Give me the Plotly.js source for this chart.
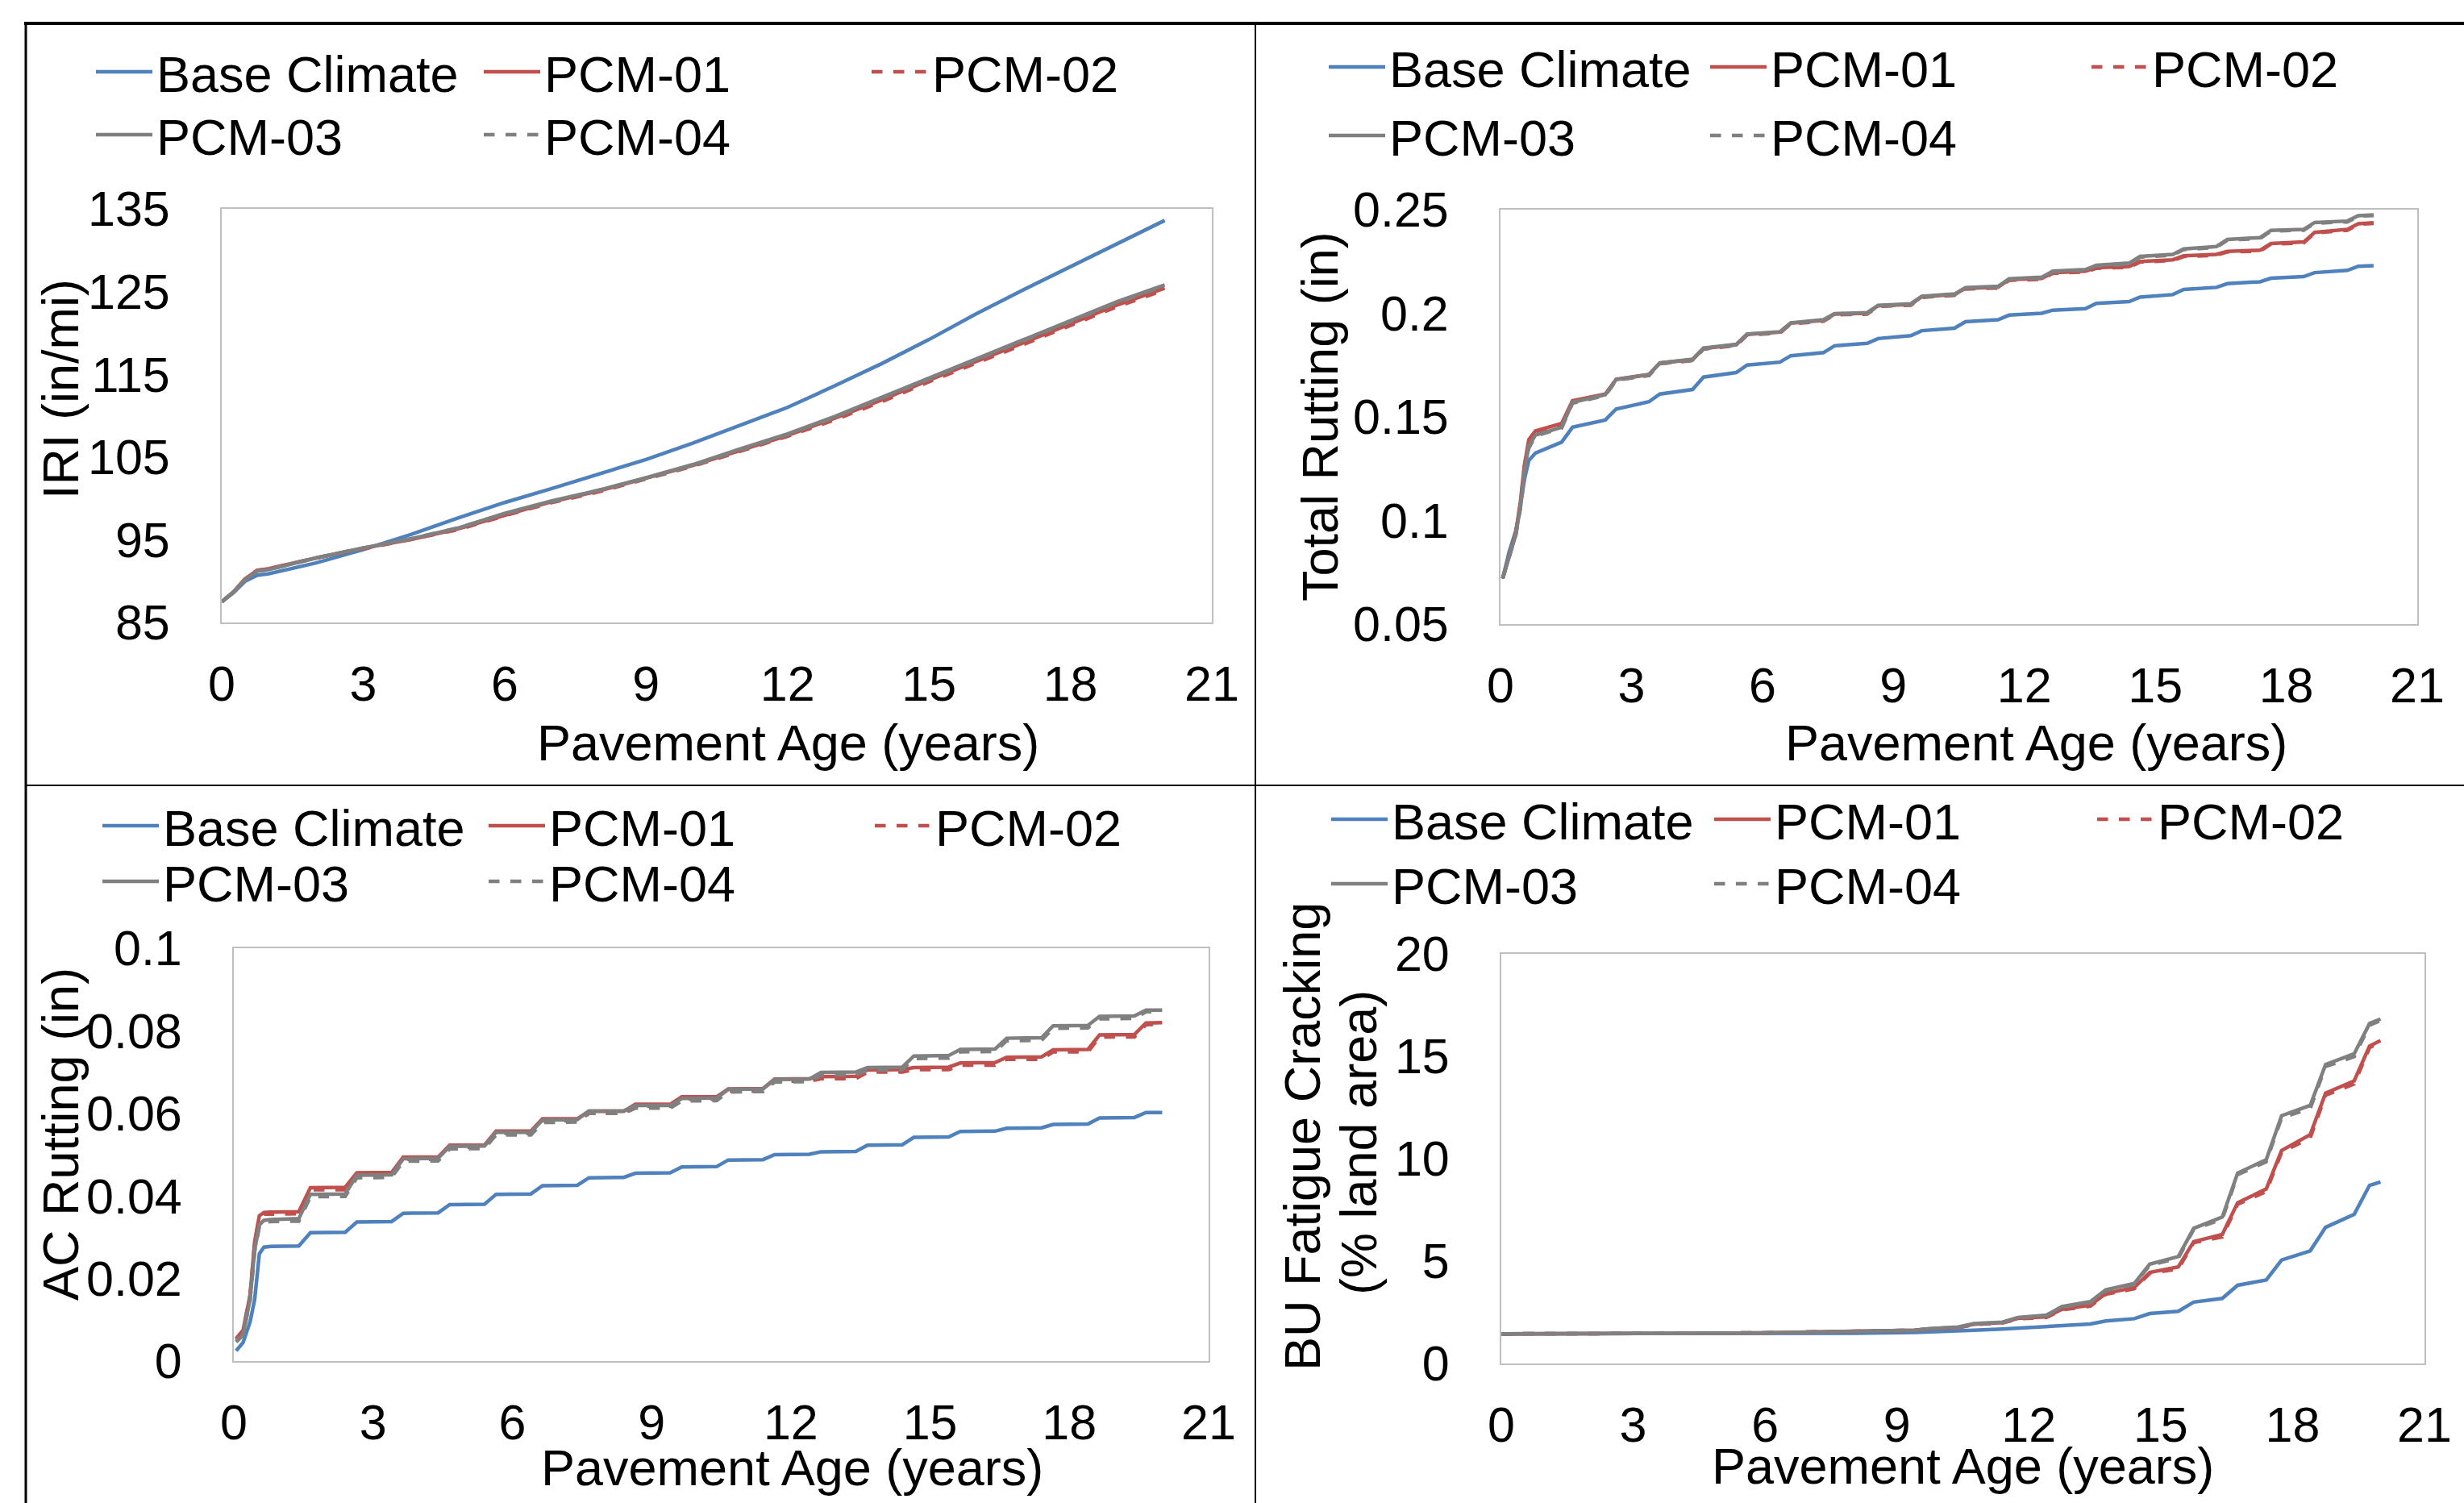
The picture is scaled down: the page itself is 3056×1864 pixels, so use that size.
<!DOCTYPE html>
<html>
<head>
<meta charset="utf-8">
<script src="https://cdn.plot.ly/plotly-3.0.1.min.js"></script>
<style>
  html, body { margin: 0; padding: 0; background: #ffffff; }
  #chart { width: 3056px; height: 1864px; }
</style>
</head>
<body>
<div id="chart"></div>
<script>
// ---------------- DATA ----------------
const seriesNames = ["Base Climate", "PCM-01", "PCM-02", "PCM-03", "PCM-04"];

// IRI (in/mi)
const iriYears = [0, 0.25, 0.5, 0.75, 1, 1.5, 2, 3, 4, 5, 6, 7, 8, 9, 10, 11, 12, 13, 14, 15, 16, 17, 18, 19, 20];
const iriBase  = [87.5, 88.6, 90.0, 90.7, 90.9, 91.5, 92.2, 93.8, 95.6, 97.6, 99.5, 101.2, 102.9, 104.7, 106.7, 108.9, 111.0, 113.6, 116.3, 119.2, 122.3, 125.2, 128.0, 130.8, 133.6];
const iriPcm01 = [87.5, 88.7, 90.3, 91.3, 91.5, 92.2, 92.8, 94.0, 95.0, 96.3, 98.0, 99.6, 100.9, 102.4, 104.0, 105.8, 107.6, 109.7, 111.9, 114.3, 116.5, 118.8, 121.1, 123.4, 125.4];
const iriPcm02 = [87.5, 88.7, 90.3, 91.3, 91.5, 92.2, 92.8, 93.9, 95.0, 96.2, 97.9, 99.5, 100.8, 102.3, 103.9, 105.7, 107.5, 109.5, 111.7, 114.1, 116.3, 118.6, 120.9, 123.2, 125.2];
const iriPcm03 = [87.5, 88.7, 90.2, 91.2, 91.4, 92.1, 92.8, 94.0, 95.1, 96.4, 98.2, 99.7, 101.0, 102.5, 104.1, 106.0, 107.8, 109.9, 112.2, 114.6, 116.9, 119.1, 121.5, 123.8, 125.8];
const iriPcm04 = [87.5, 88.7, 90.2, 91.2, 91.4, 92.1, 92.8, 94.0, 95.1, 96.4, 98.1, 99.6, 101.0, 102.4, 104.0, 105.9, 107.7, 109.8, 112.1, 114.5, 116.8, 119.0, 121.4, 123.7, 125.7];

// Rutting sample ages (years)
const rutYears = [0.05, 0.2, 0.35, 0.45, 0.55, 0.65, 0.8, 1.4, 1.65, 2.4, 2.65, 3.4, 3.65, 4.4, 4.65, 5.4, 5.65, 6.4, 6.65, 7.4, 7.65, 8.4, 8.65, 9.4, 9.65, 10.4, 10.65, 11.4, 11.65, 12.4, 12.65, 13.4, 13.65, 14.4, 14.65, 15.4, 15.65, 16.4, 16.65, 17.4, 17.65, 18.4, 18.65, 19.4, 19.65, 20.0];

// Total rutting (in)
const trBase  = [0.072, 0.085, 0.095, 0.106, 0.120, 0.129, 0.1325, 0.1378, 0.1450, 0.1485, 0.1538, 0.1573, 0.1610, 0.1632, 0.1692, 0.1714, 0.1750, 0.1764, 0.1795, 0.1810, 0.1843, 0.1855, 0.1878, 0.1892, 0.1916, 0.1928, 0.1959, 0.1969, 0.1991, 0.2000, 0.2015, 0.2022, 0.2048, 0.2056, 0.2078, 0.2090, 0.2115, 0.2125, 0.2143, 0.2152, 0.2169, 0.2177, 0.2196, 0.2207, 0.2227, 0.2230];
const trPcm01 = [0.072, 0.083, 0.094, 0.108, 0.127, 0.139, 0.1432, 0.1468, 0.1578, 0.1610, 0.1682, 0.1704, 0.1760, 0.1776, 0.1830, 0.1848, 0.1898, 0.1909, 0.1952, 0.1966, 0.1996, 0.2000, 0.2036, 0.2043, 0.2080, 0.2090, 0.2120, 0.2126, 0.2162, 0.2168, 0.2196, 0.2203, 0.2220, 0.2226, 0.2250, 0.2258, 0.2277, 0.2284, 0.2299, 0.2304, 0.2337, 0.2344, 0.2390, 0.2405, 0.2432, 0.2437];
const trPcm02 = [0.072, 0.083, 0.094, 0.107, 0.126, 0.138, 0.1428, 0.1464, 0.1574, 0.1606, 0.1679, 0.1700, 0.1757, 0.1772, 0.1827, 0.1844, 0.1895, 0.1905, 0.1949, 0.1962, 0.1993, 0.1996, 0.2033, 0.2039, 0.2077, 0.2086, 0.2117, 0.2122, 0.2159, 0.2164, 0.2193, 0.2199, 0.2217, 0.2222, 0.2247, 0.2254, 0.2274, 0.2280, 0.2296, 0.2300, 0.2334, 0.2340, 0.2387, 0.2401, 0.2429, 0.2434];
const trPcm03 = [0.072, 0.083, 0.093, 0.106, 0.124, 0.136, 0.1412, 0.1450, 0.1570, 0.1607, 0.1680, 0.1704, 0.1760, 0.1778, 0.1832, 0.1850, 0.1900, 0.1911, 0.1954, 0.1969, 0.1998, 0.2003, 0.2038, 0.2046, 0.2082, 0.2093, 0.2124, 0.2130, 0.2166, 0.2174, 0.2203, 0.2211, 0.2232, 0.2242, 0.2274, 0.2284, 0.2310, 0.2322, 0.2356, 0.2365, 0.2400, 0.2405, 0.2438, 0.2445, 0.2471, 0.2475];
const trPcm04 = [0.072, 0.083, 0.093, 0.105, 0.123, 0.135, 0.1408, 0.1446, 0.1566, 0.1603, 0.1677, 0.1700, 0.1757, 0.1774, 0.1829, 0.1846, 0.1897, 0.1907, 0.1951, 0.1965, 0.1995, 0.1999, 0.2035, 0.2042, 0.2079, 0.2089, 0.2121, 0.2126, 0.2163, 0.2170, 0.2200, 0.2207, 0.2229, 0.2238, 0.2271, 0.2280, 0.2307, 0.2318, 0.2353, 0.2361, 0.2397, 0.2401, 0.2435, 0.2441, 0.2468, 0.2472];

// AC rutting (in)
const acBase  = [0.0025, 0.0045, 0.0095, 0.0150, 0.0260, 0.0276, 0.0278, 0.0279, 0.0311, 0.0312, 0.0337, 0.0338, 0.0358, 0.0359, 0.0379, 0.0380, 0.0404, 0.0405, 0.0425, 0.0426, 0.0444, 0.0445, 0.0455, 0.0456, 0.0470, 0.0471, 0.0487, 0.0488, 0.0500, 0.0501, 0.0507, 0.0508, 0.0523, 0.0524, 0.0542, 0.0543, 0.0556, 0.0557, 0.0564, 0.0565, 0.0573, 0.0574, 0.0589, 0.0590, 0.0602, 0.0602];
const acPcm01 = [0.0055, 0.0075, 0.0160, 0.0290, 0.0352, 0.0360, 0.0361, 0.0362, 0.0420, 0.0421, 0.0456, 0.0457, 0.0494, 0.0494, 0.0523, 0.0523, 0.0557, 0.0557, 0.0587, 0.0587, 0.0605, 0.0605, 0.0622, 0.0622, 0.0640, 0.0640, 0.0659, 0.0660, 0.0683, 0.0684, 0.0689, 0.0690, 0.0705, 0.0706, 0.0711, 0.0712, 0.0722, 0.0723, 0.0736, 0.0737, 0.0754, 0.0755, 0.0790, 0.0791, 0.0819, 0.0820];
const acPcm02 = [0.0053, 0.0073, 0.0158, 0.0287, 0.0348, 0.0356, 0.0356, 0.0357, 0.0415, 0.0415, 0.0451, 0.0451, 0.0489, 0.0489, 0.0518, 0.0518, 0.0552, 0.0552, 0.0582, 0.0582, 0.0600, 0.0600, 0.0617, 0.0617, 0.0635, 0.0635, 0.0654, 0.0654, 0.0678, 0.0678, 0.0684, 0.0684, 0.0700, 0.0700, 0.0706, 0.0706, 0.0717, 0.0717, 0.0731, 0.0731, 0.0749, 0.0749, 0.0785, 0.0785, 0.0815, 0.0816];
const acPcm03 = [0.0048, 0.0065, 0.0150, 0.0270, 0.0330, 0.0341, 0.0343, 0.0345, 0.0404, 0.0405, 0.0450, 0.0451, 0.0490, 0.0491, 0.0520, 0.0521, 0.0554, 0.0554, 0.0584, 0.0585, 0.0606, 0.0606, 0.0619, 0.0619, 0.0636, 0.0637, 0.0658, 0.0659, 0.0682, 0.0683, 0.0699, 0.0700, 0.0711, 0.0712, 0.0739, 0.0740, 0.0755, 0.0756, 0.0782, 0.0783, 0.0812, 0.0813, 0.0835, 0.0836, 0.0850, 0.0850];
const acPcm04 = [0.0046, 0.0063, 0.0147, 0.0266, 0.0326, 0.0337, 0.0338, 0.0339, 0.0398, 0.0399, 0.0444, 0.0445, 0.0484, 0.0485, 0.0514, 0.0515, 0.0548, 0.0548, 0.0578, 0.0579, 0.0600, 0.0600, 0.0613, 0.0613, 0.0630, 0.0631, 0.0652, 0.0653, 0.0676, 0.0677, 0.0693, 0.0694, 0.0705, 0.0706, 0.0733, 0.0734, 0.0749, 0.0750, 0.0776, 0.0777, 0.0806, 0.0807, 0.0829, 0.0830, 0.0846, 0.0847];

// Bottom-up fatigue cracking (% lane area)
const buYears = [0, 2, 4, 6, 8, 9.4, 9.75, 10.4, 10.75, 11.4, 11.75, 12.4, 12.75, 13.4, 13.75, 14.4, 14.75, 15.4, 15.75, 16.4, 16.75, 17.4, 17.75, 18.4, 18.75, 19.4, 19.75, 20.0];
const buBase  = [1.45, 1.45, 1.45, 1.46, 1.48, 1.52, 1.54, 1.58, 1.62, 1.68, 1.72, 1.80, 1.86, 1.93, 2.08, 2.19, 2.44, 2.55, 3.00, 3.18, 3.82, 4.08, 5.05, 5.50, 6.65, 7.28, 8.70, 8.86];
const buPcm01 = [1.45, 1.45, 1.47, 1.50, 1.55, 1.62, 1.69, 1.76, 1.92, 2.00, 2.20, 2.28, 2.65, 2.85, 3.42, 3.71, 4.45, 4.72, 5.95, 6.30, 7.85, 8.52, 10.40, 11.17, 13.20, 13.80, 15.50, 15.77];
const buPcm02 = [1.45, 1.45, 1.47, 1.50, 1.55, 1.62, 1.68, 1.75, 1.90, 1.98, 2.18, 2.25, 2.62, 2.80, 3.38, 3.65, 4.40, 4.62, 5.90, 6.18, 7.78, 8.40, 10.32, 11.02, 13.10, 13.65, 15.42, 15.70];
const buPcm03 = [1.45, 1.45, 1.47, 1.50, 1.55, 1.62, 1.70, 1.78, 1.95, 2.02, 2.25, 2.36, 2.78, 3.02, 3.60, 3.91, 4.85, 5.22, 6.60, 7.15, 9.30, 9.95, 12.10, 12.60, 14.60, 15.12, 16.60, 16.82];
const buPcm04 = [1.45, 1.45, 1.47, 1.50, 1.55, 1.62, 1.69, 1.77, 1.93, 2.00, 2.23, 2.33, 2.75, 2.98, 3.56, 3.86, 4.80, 5.15, 6.55, 7.05, 9.22, 9.85, 12.00, 12.45, 14.50, 14.98, 16.52, 16.75];

const xTitle = "Pavement Age (years)";
const yTitles = ["IRI (in/mi)", "Total Rutting (in)", "AC Rutting (in)"];
const buTitleLines = ["BU Fatigue Cracking", "(% land area)"];

// ---------------- STYLE ----------------
const W = 3056, H = 1864;
const FONT = "Liberation Sans, Arial, Helvetica, sans-serif";
const styles = [
  {color: "#4f81bd", dash: "solid"},
  {color: "#c0504d", dash: "solid"},
  {color: "#c0504d", dash: "dash"},
  {color: "#808080", dash: "solid"},
  {color: "#808080", dash: "dash"}
];
const LW = 4.5;

const panels = [
  {xa: "x",  ya: "y",  years: iriYears, vals: [iriBase, iriPcm01, iriPcm02, iriPcm03, iriPcm04], legs: ["legend", "legend2"]},
  {xa: "x2", ya: "y2", years: rutYears, vals: [trBase, trPcm01, trPcm02, trPcm03, trPcm04], legs: ["legend3", "legend4"]},
  {xa: "x3", ya: "y3", years: rutYears, vals: [acBase, acPcm01, acPcm02, acPcm03, acPcm04], legs: ["legend5", "legend6"]},
  {xa: "x4", ya: "y4", years: buYears, vals: [buBase, buPcm01, buPcm02, buPcm03, buPcm04], legs: ["legend7", "legend8"]}
];

const traces = [];
panels.forEach(p => {
  p.vals.forEach((v, i) => {
    traces.push({
      type: "scatter", mode: "lines",
      x: p.years, y: v,
      xaxis: p.xa, yaxis: p.ya,
      name: seriesNames[i],
      legend: i < 3 ? p.legs[0] : p.legs[1],
      line: {color: styles[i].color, dash: styles[i].dash, width: LW},
      hoverinfo: "skip"
    });
  });
});

function px2x(px) { return px / W; }
function py2y(py) { return 1 - py / H; }

function xaxis(d, anchor) {
  return {
    anchor: anchor, automargin: false,
    domain: [px2x(d[0]), px2x(d[1])], range: [0, 21], dtick: 3, tick0: 0,
    showgrid: false, zeroline: false, showline: true, mirror: true,
    linecolor: "#bfbfbf", linewidth: 2, ticks: "", ticklabelstandoff: 22,
    tickfont: {family: FONT, size: 61, color: "#000"}
  };
}
function yaxis(d, range, dtick, t0, anchor) {
  return {
    anchor: anchor, automargin: false,
    domain: [py2y(d[1]), py2y(d[0])], range: range, dtick: dtick, tick0: t0,
    showgrid: false, zeroline: false, showline: true, mirror: true,
    linecolor: "#bfbfbf", linewidth: 2, ticks: "", ticklabelstandoff: 50,
    tickfont: {family: FONT, size: 61, color: "#000"}
  };
}

function leg(xLine, yCenter, entry) {
  return {
    x: px2x(xLine - 5), y: py2y(yCenter), xanchor: "left", yanchor: "middle",
    orientation: "h", entrywidth: entry, entrywidthmode: "pixels", itemwidth: 70,
    font: {family: FONT, size: 63, color: "#000"},
    bgcolor: "rgba(0,0,0,0)", borderwidth: 0, traceorder: "normal"
  };
}

function ann(text, xpx, ypx, angle) {
  return {
    text: text, xref: "paper", yref: "paper", x: px2x(xpx), y: py2y(ypx),
    xanchor: "center", yanchor: "middle", showarrow: false, textangle: angle || 0,
    font: {family: FONT, size: 63, color: "#000"}
  };
}

function seg(x0, y0, x1, y1, w) {
  return {type: "line", xref: "paper", yref: "paper",
    x0: px2x(x0), y0: py2y(y0), x1: px2x(x1), y1: py2y(y1),
    line: {color: "#000", width: w}};
}

const layout = {
  width: W, height: H,
  margin: {l: 0, r: 0, t: 0, b: 0, pad: 0, autoexpand: false},
  paper_bgcolor: "#ffffff", plot_bgcolor: "#ffffff",
  showlegend: true,
  font: {family: FONT, color: "#000"},
  xaxis:  xaxis([275, 1503], "y"),   yaxis:  yaxis([259, 772],  [85, 135], 10, 85, "x"),
  xaxis2: xaxis([1861, 2998], "y2"), yaxis2: yaxis([260, 774],  [0.05, 0.25], 0.05, 0, "x2"),
  xaxis3: xaxis([290, 1499], "y3"),  yaxis3: yaxis([1176, 1688], [0, 0.1], 0.02, 0, "x3"),
  xaxis4: xaxis([1862, 3007], "y4"), yaxis4: yaxis([1183, 1691], [0, 20], 5, 0, "x4"),
  legend:  leg(119, 89, 396),
  legend2: leg(119, 167, 396),
  legend3: leg(1648, 83, 388),
  legend4: leg(1648, 168, 388),
  legend5: leg(127, 1024, 394),
  legend6: leg(127, 1093, 394),
  legend7: leg(1651, 1016, 390),
  legend8: leg(1651, 1096, 390),
  annotations: [
    ann(yTitles[0], 75, 483, -90),
    ann(xTitle, 977, 921),
    ann(yTitles[1], 1637, 517, -90),
    ann(xTitle, 2525, 921),
    ann(yTitles[2], 75, 1407, -90),
    ann(xTitle, 982, 1820),
    ann(buTitleLines[0], 1615, 1410, -90),
    ann(buTitleLines[1], 1685, 1417, -90),
    ann(xTitle, 2434, 1818)
  ],
  shapes: [
    seg(30, 29, 3056, 29, 4),
    seg(32, 27, 32, 1864, 3),
    seg(1557, 29, 1557, 1864, 2),
    seg(32, 974, 3056, 974, 2)
  ]
};

Plotly.newPlot("chart", traces, layout, {staticPlot: true, displayModeBar: false});
</script>
</body>
</html>
